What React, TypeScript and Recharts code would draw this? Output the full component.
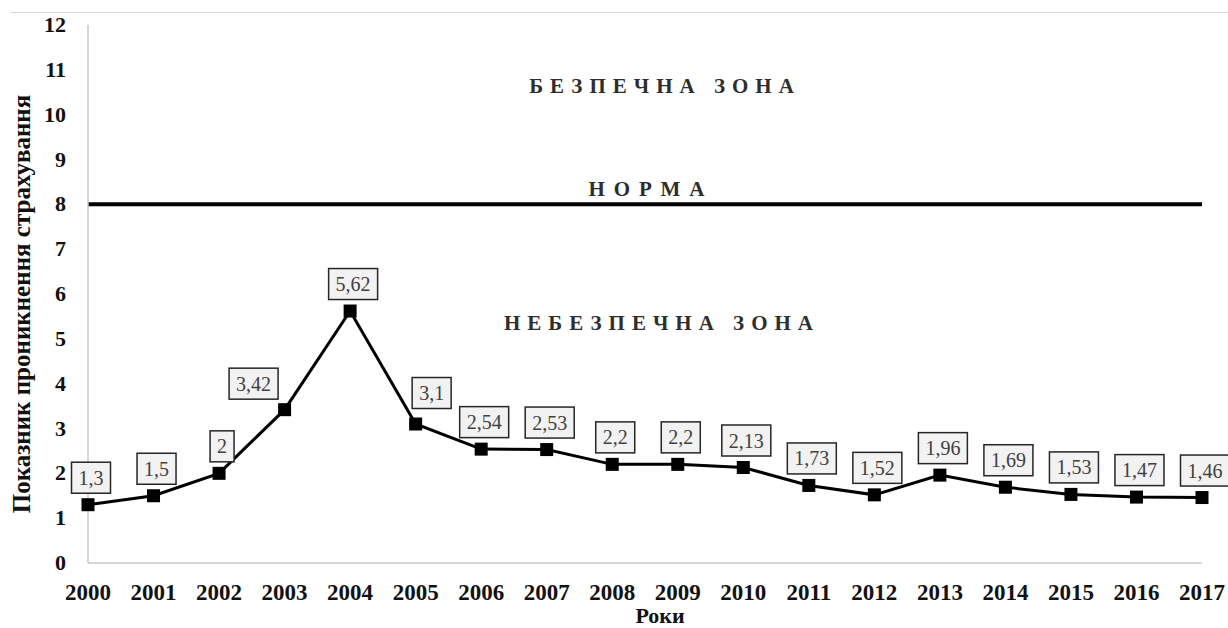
import React from 'react';
import {
  LineChart,
  Line,
  XAxis,
  YAxis,
  ReferenceLine,
  ReferenceArea,
  LabelList,
} from 'recharts';

const YEARS = [
  '2000', '2001', '2002', '2003', '2004', '2005', '2006', '2007', '2008',
  '2009', '2010', '2011', '2012', '2013', '2014', '2015', '2016', '2017',
];
const PENETRATION = [
  1.3, 1.5, 2, 3.42, 5.62, 3.1, 2.54, 2.53, 2.2,
  2.2, 2.13, 1.73, 1.52, 1.96, 1.69, 1.53, 1.47, 1.46,
];
const Y_TICKS = [0, 1, 2, 3, 4, 5, 6, 7, 8, 9, 10, 11, 12];
const NORM_LEVEL = 8;
const Y_MAX = 12;

const Y_TITLE = 'Показник проникнення страхування';
const X_TITLE = 'Роки';
const NORM_TEXT = 'НОРМА';
const SAFE_TEXT = 'БЕЗПЕЧНА ЗОНА';
const DANGER_TEXT = 'НЕБЕЗПЕЧНА ЗОНА';

const FONT = '"Liberation Serif", "Times New Roman", serif';

// callouts that sit beside the point instead of above it
const CALLOUT_NUDGE: Record<number, { dx: number; dy: number }> = {
  3: { dx: -31, dy: -26 },
  5: { dx: 16, dy: -31 },
};

const rows = YEARS.map((year, i) => ({ year, value: PENETRATION[i] }));

function fmtComma(v: number): string {
  return String(v).replace('.', ',');
}

const boldText = { fontFamily: FONT, fontWeight: 700, fontSize: 22 };

function XTick(props: any) {
  const { x, y, payload } = props;
  return (
    <text x={x} y={y + 35} textAnchor="middle" fill="#111" style={{ ...boldText, fontSize: 23 }}>
      {payload.value}
    </text>
  );
}

function YTick(props: any) {
  const { y, payload } = props;
  return (
    <text x={66} y={y + 7} textAnchor="end" fill="#111" style={boldText}>
      {payload.value}
    </text>
  );
}

function SquareDot(props: any) {
  const { cx, cy, index } = props;
  if (cx == null || cy == null) return null;
  return <rect key={`dot-${index}`} x={cx - 6.5} y={cy - 6.5} width={13} height={13} fill="#000" />;
}

function Callout(props: any) {
  const { x, y, value, index } = props;
  const text = fmtComma(value);
  const nudge = CALLOUT_NUDGE[index] ?? { dx: 3, dy: -27 };
  const cx = x + nudge.dx;
  const cy = y + nudge.dy;
  let w = 14;
  for (const ch of text) w += ch === ',' ? 5 : 10;
  const h = 31;
  return (
    <g>
      <rect x={cx - w / 2} y={cy - h / 2} width={w} height={h} fill="#f2f2f2" stroke="#262626" strokeWidth={1.5} />
      <text x={cx} y={cy + 7} textAnchor="middle" fill="#404040" style={{ fontFamily: FONT, fontSize: 20 }}>
        {text}
      </text>
    </g>
  );
}

function zoneLabel(text: string, dx: number, dy: number, spacing: number) {
  return (p: any) => {
    const vb = p.viewBox;
    return (
      <text
        x={vb.x + vb.width / 2 + dx}
        y={vb.y + dy}
        textAnchor="middle"
        fill="#2e2e2e"
        style={{ fontFamily: FONT, fontWeight: 700, fontSize: 21, letterSpacing: spacing }}
      >
        {text}
      </text>
    );
  };
}

export default function App() {
  return (
    <div
      style={{
        position: 'absolute',
        left: 0,
        top: 0,
        width: 1228,
        height: 628,
        background: '#fff',
      }}
    >
      <div style={{ position: 'absolute', left: 10, right: 0, top: 12, borderTop: '1px solid #d9d9d9' }} />
      <LineChart
        width={1228}
        height={628}
        data={rows}
        margin={{ top: 25, right: 26, left: 0, bottom: 0 }}
      >
        <XAxis
          dataKey="year"
          height={65}
          tickLine={false}
          tickSize={0}
          axisLine={{ stroke: '#c8c8c8', strokeWidth: 1.5 }}
          tick={<XTick />}
          interval={0}
          label={(p: any) => {
            const vb = p.viewBox;
            return (
              <text x={vb.x + vb.width / 2 + 15} y={623} textAnchor="middle" fill="#111" style={{ ...boldText, fontSize: 22 }}>
                {X_TITLE}
              </text>
            );
          }}
        />
        <YAxis
          width={88}
          domain={[0, Y_MAX]}
          ticks={Y_TICKS}
          interval={0}
          tickLine={false}
          tickSize={0}
          axisLine={{ stroke: '#c8c8c8', strokeWidth: 1.5 }}
          tick={<YTick />}
          label={() => (
            <text
              x={30}
              y={304}
              transform="rotate(-90 30 304)"
              textAnchor="middle"
              fill="#111"
              style={{ ...boldText, fontSize: 25 }}
            >
              {Y_TITLE}
            </text>
          )}
        />
        <ReferenceArea y1={NORM_LEVEL} y2={Y_MAX} fill="none" stroke="none" label={zoneLabel(SAFE_TEXT, 20, 68, 7)} />
        <ReferenceArea y1={0} y2={NORM_LEVEL} fill="none" stroke="none" label={zoneLabel(DANGER_TEXT, 17, 126, 7)} />
        <ReferenceLine
          y={NORM_LEVEL}
          stroke="#000"
          strokeWidth={4}
          label={zoneLabel(NORM_TEXT, 6, -8, 9)}
        />
        <Line
          dataKey="value"
          stroke="#000"
          strokeWidth={3}
          dot={<SquareDot />}
          activeDot={false}
          isAnimationActive={false}
        >
          <LabelList dataKey="value" content={<Callout />} />
        </Line>
      </LineChart>
    </div>
  );
}
